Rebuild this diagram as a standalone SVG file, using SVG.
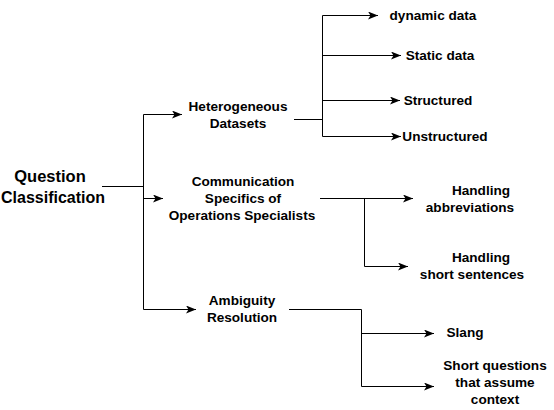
<svg xmlns="http://www.w3.org/2000/svg" width="554" height="410" viewBox="0 0 554 410">
<style>
.t{font-family:"Liberation Sans",Arial,sans-serif;font-weight:bold;font-size:13.6px;fill:#000;text-anchor:middle}
.big{font-size:16px}
.e{fill:none;stroke:#000;stroke-width:1}
.a{marker-end:url(#arr)}
</style>
<defs>
<marker id="arr" viewBox="0 0 10 8" refX="10" refY="4" markerWidth="10" markerHeight="8" markerUnits="userSpaceOnUse" orient="auto">
<path d="M0,0 L10,4 L0,8 L2.5,4 z" fill="#000"/>
</marker>
</defs>
<rect width="554" height="410" fill="#fff"/>
<g id="connectors">
<path class="e" d="M102,186.5 H143.5 M143.5,114.5 V309.5"/>
<path class="e a" d="M143.5,114.5 H182"/>
<path class="e a" d="M143.5,198.5 H163"/>
<path class="e a" d="M143.5,309.5 H196"/>
<path class="e" d="M294,119.5 H322.5 M322.5,15.5 V136.5"/>
<path class="e a" d="M322.5,15.5 H378"/>
<path class="e a" d="M322.5,55.5 H401"/>
<path class="e a" d="M322.5,100.5 H400"/>
<path class="e a" d="M322.5,136.5 H401"/>
<path class="e a" d="M320,198.5 H413"/>
<path class="e" d="M364.5,198.5 V266.5"/>
<path class="e a" d="M364.5,266.5 H408"/>
<path class="e" d="M289,309.5 H361.5 V386.5"/>
<path class="e a" d="M361.5,333.5 H434"/>
<path class="e a" d="M361.5,386.5 H434"/>
</g>
<g id="question"><text class="t big" x="50" y="182" style="font-size:16.5px">Question</text><text class="t big" x="53" y="203">Classification</text></g>
<g id="heterogeneous"><text class="t" x="238" y="111">Heterogeneous</text><text class="t" x="238" y="128">Datasets</text></g>
<g id="communication"><text class="t" x="243" y="186">Communication</text><text class="t" x="243" y="203">Specifics of</text><text class="t" x="242" y="220">Operations Specialists</text></g>
<g id="ambiguity"><text class="t" x="242" y="305">Ambiguity</text><text class="t" x="242" y="322">Resolution</text></g>
<g id="dynamic"><text class="t" x="433" y="20">dynamic data</text></g>
<g id="static"><text class="t" x="440" y="60">Static data</text></g>
<g id="structured"><text class="t" x="438" y="105">Structured</text></g>
<g id="unstructured"><text class="t" x="445" y="141">Unstructured</text></g>
<g id="abbrev"><text class="t" x="481" y="195">Handling</text><text class="t" x="470" y="212">abbreviations</text></g>
<g id="short-sent"><text class="t" x="481" y="262">Handling</text><text class="t" x="472" y="279">short sentences</text></g>
<g id="slang"><text class="t" x="465" y="337">Slang</text></g>
<g id="short-q"><text class="t" x="495" y="370">Short questions</text><text class="t" x="495" y="387">that assume</text><text class="t" x="495" y="404">context</text></g>
</svg>
